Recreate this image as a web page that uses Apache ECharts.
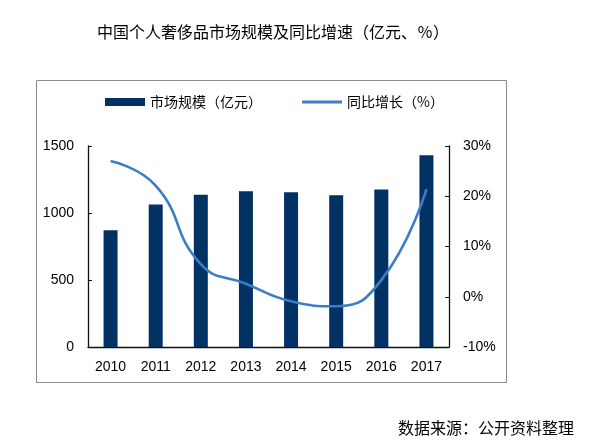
<!DOCTYPE html>
<html>
<head>
<meta charset="utf-8">
<script src="https://cdn.jsdelivr.net/npm/echarts@6/dist/echarts.min.js"></script>
<style>
html, body { margin: 0; padding: 0; background: #fff; }
#chart { width: 594px; height: 444px; }
</style>
</head>
<body>
<div id="chart"></div>
<script>
// 年份、市场规模（亿元）、同比增长（%）
var years = ['2010', '2011', '2012', '2013', '2014', '2015', '2016', '2017'];
var marketSize = [871, 1063, 1137, 1162, 1155, 1132, 1175, 1431];
var growth = [27, 22.1, 6.5, 2.6, -0.9, -1.9, 3.3, 21.4];

var cnFont = '"Noto Sans CJK SC", sans-serif';
var numFont = '"Liberation Sans", Arial, sans-serif';

var myChart = echarts.init(document.getElementById('chart'));
var option = {
	animation : false,
	title : {
		text : '中国个人奢侈品市场规模及同比增速（亿元、％）',
		left : 97,
		top : 24,
		padding : 0,
		textStyle : {
			fontFamily : cnFont,
			fontSize : 16,
			fontWeight : 'normal',
			color : '#000'
		}
	},
	graphic : [ {
		type : 'rect',
		shape : { x : 36.5, y : 80.5, width : 470, height : 302 },
		style : { fill : 'none', stroke : '#8a8a8a', lineWidth : 1 },
		silent : true
	}, {
		type : 'text',
		left : 398,
		top : 420,
		style : {
			text : '数据来源：公开资料整理',
			font : '16px "Noto Sans CJK SC", sans-serif',
			fill : '#000'
		}
	} ],
	legend : {
		top : 95,
		left : 105,
		padding : 0,
		itemWidth : 40,
		itemHeight : 8,
		itemGap : 40,
		textStyle : {
			fontFamily : cnFont,
			fontSize : 14,
			color : '#000'
		},
		data : [ {
			name : '市场规模（亿元）',
			icon : 'rect'
		}, {
			name : '同比增长（%）',
			icon : 'path://M0,0 L40,0 L40,3 L0,3 Z'
		} ]
	},
	grid : {
		left : 88,
		right : 145,
		top : 146,
		bottom : 97,
		containLabel : false
	},
	xAxis : {
		type : 'category',
		data : years,
		axisLine : { lineStyle : { color : '#111', width : 1.3 } },
		axisTick : { inside : true, length : 4, lineStyle : { color : '#111' } },
		axisLabel : {
			margin : 13,
			fontFamily : numFont,
			fontSize : 14,
			color : '#000'
		}
	},
	yAxis : [ {
		type : 'value',
		min : 0,
		max : 1500,
		interval : 500,
		axisLine : { show : true, lineStyle : { color : '#111', width : 1.3 } },
		axisTick : { show : true, inside : true, length : 4, lineStyle : { color : '#111' } },
		splitLine : { show : false },
		axisLabel : {
			margin : 14,
			formatter : function(v) { return String(v); },
			fontFamily : numFont,
			fontSize : 14,
			color : '#000'
		}
	}, {
		type : 'value',
		min : -10,
		max : 30,
		interval : 10,
		position : 'right',
		axisLine : { show : true, lineStyle : { color : '#111', width : 1.3 } },
		axisTick : { show : true, inside : true, length : 4, lineStyle : { color : '#111' } },
		splitLine : { show : false },
		axisLabel : {
			margin : 14,
			formatter : '{value}%',
			fontFamily : numFont,
			fontSize : 14,
			color : '#000'
		}
	} ],
	series : [ {
		name : '市场规模（亿元）',
		type : 'bar',
		barWidth : 14,
		itemStyle : { color : '#023263' },
		data : marketSize
	}, {
		name : '同比增长（%）',
		type : 'line',
		yAxisIndex : 1,
		smooth : 0.5,
		symbol : 'none',
		lineStyle : { color : '#3a7fc4', width : 2.6 },
		itemStyle : { color : '#3a7fc4' },
		data : growth
	} ]
};
myChart.setOption(option);
</script>
</body>
</html>
